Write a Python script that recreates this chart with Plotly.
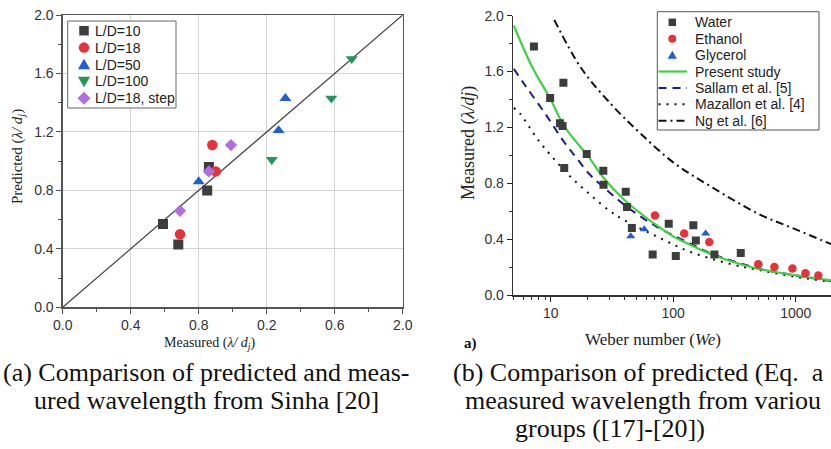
import plotly.graph_objects as go

W, H = 831, 449


def px(x):
    return x / W


def py(y):
    return 1 - y / H


# ---------------- data: panel (a) ----------------
ld10_x = [0.59, 0.68, 0.85, 0.86]
ld10_y = [0.57, 0.43, 0.80, 0.96]
ld18_x = [0.69, 0.88, 0.90]
ld18_y = [0.50, 1.11, 0.93]
ld50_x = [0.80, 1.27, 1.31]
ld50_y = [0.86, 1.21, 1.43]
ld100_x = [1.23, 1.58, 1.70]
ld100_y = [1.01, 1.43, 1.70]
step_x = [0.69, 0.86, 0.99]
step_y = [0.66, 0.93, 1.11]
parity = [0.0, 2.0]
a_tickvals = [0.0, 0.4, 0.8, 1.2, 1.6, 2.0]
a_xticktext = ["0.0", "0.4", "0.8", "0.2", "0.6", "2.0"]
a_yticktext = ["0.0", "0.4", "0.8", "1.2", "1.6", "2.0"]
a_minor = [0.2, 0.6, 1.0, 1.4, 1.8]

# ---------------- data: panel (b) ----------------
water_we = [7.3, 9.9, 12.7, 11.9, 12.5, 12.9, 19.7, 26.9, 27, 41, 42, 46, 68, 92, 105, 146, 153, 217, 356]
water_y = [1.78, 1.41, 1.52, 1.23, 1.21, 0.91, 1.01, 0.89, 0.79, 0.74, 0.63, 0.48, 0.29, 0.51, 0.28, 0.50, 0.39, 0.29, 0.30]
ethanol_we = [71, 123, 197, 495, 670, 940, 1200, 1530]
ethanol_y = [0.57, 0.44, 0.38, 0.22, 0.20, 0.19, 0.155, 0.14]
glycerol_we = [45, 58, 184]
glycerol_y = [0.42, 0.47, 0.44]

present_we = [5, 7, 10, 12.5, 15, 20, 27, 40, 55, 73, 100, 137, 200, 300, 480, 700, 1000, 1400, 1940]
present_y = [1.93, 1.64, 1.40, 1.23, 1.13, 1.00, 0.84, 0.68, 0.58, 0.50, 0.42, 0.36, 0.295, 0.24, 0.19, 0.163, 0.14, 0.122, 0.105]
sallam_we = [5, 6.2, 9, 13, 16.3, 21, 28, 40, 73, 137, 200, 500, 1000, 1940]
sallam_y = [1.62, 1.50, 1.30, 1.09, 0.98, 0.86, 0.76, 0.645, 0.49, 0.37, 0.30, 0.19, 0.14, 0.10]
mazallon_we = [5, 5.6, 7.9, 10.5, 14, 20.9, 30.5, 39, 73, 137, 300, 495, 1000, 1940]
mazallon_y = [1.34, 1.30, 1.11, 0.98, 0.86, 0.72, 0.60, 0.54, 0.42, 0.31, 0.22, 0.18, 0.13, 0.095]
ng_we = [10.7, 17.9, 32.4, 53.6, 100, 200, 500, 1000, 1940]
ng_y = [1.97, 1.62, 1.35, 1.16, 0.95, 0.78, 0.58, 0.47, 0.365]
b_xticks = [10, 100, 1000]
b_xticktext = ["10", "100", "1000"]
b_yticks = [0.0, 0.4, 0.8, 1.2, 1.6, 2.0]
b_yticktext = ["0.0", "0.4", "0.8", "1.2", "1.6", "2.0"]
b_yminor = [0.2, 0.6, 1.0, 1.4, 1.8]

# colours
C_SQ = "#3d3d3d"
C_RED = "#e8323a"
C_BLUE = "#1e5ed6"
C_GREEN = "#24965a"
C_PURPLE = "#b06ee0"
C_LGREEN = "#3fd23f"
C_NAVY = "#1c1c8a"
C_BLACK = "#111111"

SANS = "Liberation Sans, Arial, sans-serif"
SERIF = "Liberation Serif, Times New Roman, serif"

fig = go.Figure()

# ---------------- panel (a) traces ----------------
fig.add_trace(go.Scatter(x=parity, y=parity, mode="lines", line=dict(color="#444444", width=1.2),
                         xaxis="x", yaxis="y", showlegend=False, hoverinfo="skip"))
a_series = [
    ("L/D=10", ld10_x, ld10_y, "square", C_SQ, 10),
    ("L/D=18", ld18_x, ld18_y, "circle", C_RED, 10.5),
    ("L/D=50", ld50_x, ld50_y, "triangle-up", C_BLUE, 10.5),
    ("L/D=100", ld100_x, ld100_y, "triangle-down", C_GREEN, 10.5),
    ("L/D=18, step", step_x, step_y, "diamond", C_PURPLE, 9.5),
]
for name, xs, ys, sym, col, sz in a_series:
    fig.add_trace(go.Scatter(x=xs, y=ys, mode="markers", name=name,
                             marker=dict(symbol=sym, color=col, size=sz, line=dict(width=0)),
                             xaxis="x", yaxis="y", showlegend=False))

# ---------------- panel (b) traces ----------------
b_lines = [
    ("Ng et al. [6]", ng_we, ng_y, C_BLACK, "8px,4px,2px,4px", 2),
    ("Mazallon et al. [4]", mazallon_we, mazallon_y, C_BLACK, "2px,6px", 2),
    ("Sallam et al. [5]", sallam_we, sallam_y, C_NAVY, "8px,6px", 2),
    ("Present study", present_we, present_y, C_LGREEN, "solid", 2.2),
]
for name, xs, ys, col, dash, w in b_lines:
    fig.add_trace(go.Scatter(x=xs, y=ys, mode="lines", name=name,
                             line=dict(color=col, dash=dash, width=w, shape="spline", smoothing=1.0),
                             xaxis="x2", yaxis="y2", showlegend=False))
b_pts = [
    ("Water", water_we, water_y, "square", C_SQ, 8),
    ("Ethanol", ethanol_we, ethanol_y, "circle", C_RED, 8.5),
    ("Glycerol", glycerol_we, glycerol_y, "triangle-up", C_BLUE, 8),
]
for name, xs, ys, sym, col, sz in b_pts:
    fig.add_trace(go.Scatter(x=xs, y=ys, mode="markers", name=name,
                             marker=dict(symbol=sym, color=col, size=sz, line=dict(width=0)),
                             xaxis="x2", yaxis="y2", showlegend=False))

# ---------------- custom legends (shapes + annotations) ----------------
shapes = []
annotations = []


def glyph(kind, cx, cy, s, col):
    if kind == "square":
        shapes.append(dict(type="rect", xref="paper", yref="paper", x0=px(cx - s / 2), x1=px(cx + s / 2),
                           y0=py(cy + s / 2), y1=py(cy - s / 2), fillcolor=col, line=dict(width=0)))
    elif kind == "circle":
        shapes.append(dict(type="circle", xref="paper", yref="paper", x0=px(cx - s / 2), x1=px(cx + s / 2),
                           y0=py(cy + s / 2), y1=py(cy - s / 2), fillcolor=col, line=dict(width=0)))
    else:
        if kind == "up":
            pts = [(cx, cy - s * 0.55), (cx + s * 0.58, cy + s * 0.45), (cx - s * 0.58, cy + s * 0.45)]
        elif kind == "down":
            pts = [(cx, cy + s * 0.55), (cx + s * 0.58, cy - s * 0.45), (cx - s * 0.58, cy - s * 0.45)]
        else:
            pts = [(cx, cy - s * 0.62), (cx + s * 0.62, cy), (cx, cy + s * 0.62), (cx - s * 0.62, cy)]
        path = "M" + " L".join(f"{px(a):.5f},{py(b):.5f}" for a, b in pts) + " Z"
        shapes.append(dict(type="path", xref="paper", yref="paper", path=path, fillcolor=col, line=dict(width=0)))


def label(text, x, y, size, font=SANS, xanchor="left", color="#222222", angle=0, yanchor="middle"):
    annotations.append(dict(text=text, x=px(x), y=py(y), xref="paper", yref="paper", showarrow=False,
                            xanchor=xanchor, yanchor=yanchor, textangle=angle, borderpad=0,
                            font=dict(family=font, size=size, color=color)))


# legend (a)
shapes.append(dict(type="rect", xref="paper", yref="paper", x0=px(67.7), x1=px(176), y0=py(108), y1=py(21),
                   fillcolor="white", line=dict(color="#666666", width=1)))
a_leg = [("L/D=10", "square", C_SQ, 9.5), ("L/D=18", "circle", C_RED, 10.5), ("L/D=50", "up", C_BLUE, 10.5),
         ("L/D=100", "down", C_GREEN, 10.5), ("L/D=18, step", "diamond", C_PURPLE, 10.5)]
for i, (name, kind, col, s) in enumerate(a_leg):
    cy = 30.7 + i * 16.9
    glyph(kind, 84, cy, s, col)
    label(name, 94, cy, 14)

# legend (b)
shapes.append(dict(type="rect", xref="paper", yref="paper", x0=px(657.3), x1=px(819), y0=py(130), y1=py(11.7),
                   fillcolor="white", line=dict(color="#555555", width=1)))
b_leg_names = ["Water", "Ethanol", "Glycerol", "Present study", "Sallam et al. [5]", "Mazallon et al. [4]", "Ng et al. [6]"]
ys_leg = [22.3 + i * 16.4 for i in range(7)]
glyph("square", 672.3, ys_leg[0], 7.5, C_SQ)
glyph("circle", 672.3, ys_leg[1], 8, C_RED)
glyph("up", 672.3, ys_leg[2], 8, C_BLUE)
line_styles = [(C_LGREEN, "solid", 2.2), (C_NAVY, "8px,6px", 2), (C_BLACK, "2px,6px", 2), (C_BLACK, "8px,4px,2px,4px", 2)]
for k, (col, dash, w) in enumerate(line_styles):
    yy = ys_leg[3 + k]
    shapes.append(dict(type="line", xref="paper", yref="paper", x0=px(658.5), x1=px(687), y0=py(yy), y1=py(yy),
                       line=dict(color=col, dash=dash, width=w)))
for name, yy in zip(b_leg_names, ys_leg):
    label(name, 694.3, yy, 14)

# axis titles
label("Predicted (<i>λ/ d<sub>j</sub></i>)", 18, 157, 15, font=SERIF, xanchor="center", angle=-90)
label("Measured (<i>λ/ d<sub>j</sub></i>)", 210, 343, 14, font=SERIF, xanchor="center")
label("Measured (<i>λ/dj</i>)", 468, 143, 18, font=SERIF, xanchor="center", angle=-90)
label("Weber number (<i>We</i>)", 653, 339, 17, font=SERIF, xanchor="center")
label("<b>a)</b>", 470, 343, 15, font=SERIF, xanchor="center", color="#111111")

# captions
CAP = 26
label("(a) Comparison of predicted and meas-", 206, 372, CAP, font=SERIF, xanchor="center", color="#111111")
label("ured wavelength from Sinha [20]", 206, 400, CAP, font=SERIF, xanchor="center", color="#111111")
label("(b) Comparison of predicted (Eq.  a", 452, 372, CAP, font=SERIF, xanchor="left", color="#111111")
label("measured wavelength from variou", 464, 400, CAP, font=SERIF, xanchor="left", color="#111111")
label("groups ([17]-[20])", 610, 428, CAP, font=SERIF, xanchor="center", color="#111111")

tickfont = dict(family=SANS, size=14, color="#333333")

fig.update_layout(
    template="none",
    width=W, height=H,
    margin=dict(l=0, r=0, t=0, b=0, pad=0, autoexpand=False),
    paper_bgcolor="white", plot_bgcolor="white",
    showlegend=False,
    shapes=shapes, annotations=annotations,
    xaxis=dict(domain=[px(62.7), px(402.7)], range=[0, 2], tickmode="array", tickvals=a_tickvals,
               ticktext=a_xticktext, ticks="outside", ticklen=5, tickcolor="#555555", automargin=False,
               showline=True, linecolor="#555555", linewidth=1.3, mirror=True,
               showgrid=True, gridcolor="#d4d4d4", gridwidth=1, zeroline=False,
               minor=dict(tickvals=a_minor, ticks="outside", ticklen=3, tickcolor="#555555", showgrid=False),
               tickfont=tickfont, anchor="y"),
    yaxis=dict(domain=[py(307.3), py(15)], range=[0, 2], tickmode="array", tickvals=a_tickvals,
               ticktext=a_yticktext, ticks="outside", ticklen=5, tickcolor="#555555", automargin=False,
               showline=True, linecolor="#555555", linewidth=1.3, mirror=True,
               showgrid=True, gridcolor="#d4d4d4", gridwidth=1, zeroline=False,
               minor=dict(tickvals=a_minor, ticks="outside", ticklen=3, tickcolor="#555555", showgrid=False),
               tickfont=tickfont, anchor="x"),
    xaxis2=dict(domain=[px(513.3), 1.0], type="log", range=[0.695, 3.288], tickmode="array",
                tickvals=b_xticks, ticktext=b_xticktext, ticks="outside", ticklen=5, tickcolor="#222222",
                automargin=False,
                showline=True, linecolor="#333333", linewidth=1.6, mirror=False, showgrid=False, zeroline=False,
                minor=dict(dtick="D1", ticks="outside", ticklen=3, tickcolor="#333333", showgrid=False),
                tickfont=tickfont, anchor="y2"),
    yaxis2=dict(domain=[py(295), py(15.7)], range=[0, 2], tickmode="array", tickvals=b_yticks,
                ticktext=b_yticktext, ticks="outside", ticklen=5, tickcolor="#222222", automargin=False,
                showline=True, linecolor="#333333", linewidth=1.6, mirror=False, showgrid=False, zeroline=False,
                minor=dict(tickvals=b_yminor, ticks="outside", ticklen=3, tickcolor="#333333", showgrid=False),
                tickfont=tickfont, anchor="x2"),
)

fig.write_html("out.html", config={"displayModeBar": False, "staticPlot": True},
               post_script="document.body.style.margin='0px';document.body.style.padding='0px';document.body.style.overflow='hidden';")
